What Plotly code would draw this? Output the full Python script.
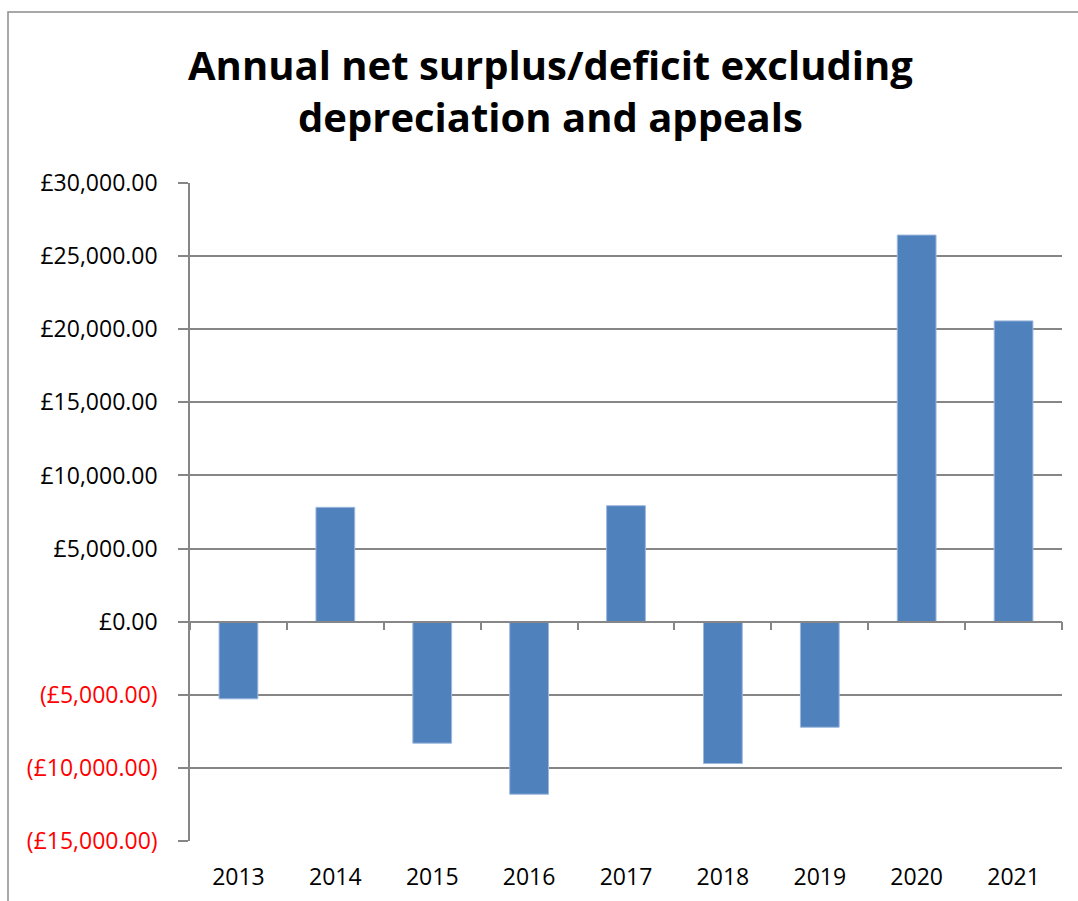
import plotly.graph_objects as go

# Yearly net surplus / deficit (GBP), excluding depreciation and appeals
years = ["2013", "2014", "2015", "2016", "2017", "2018", "2019", "2020", "2021"]
net_result = [-5280, 7820, -8310, -11800, 7930, -9700, -7220, 26440, 20570]

# Value-axis ticks; deficits shown in brackets and red
tick_values = [30000, 25000, 20000, 15000, 10000, 5000, 0, -5000, -10000, -15000]


def money_label(v):
    if v < 0:
        return f'<span style="color:#FF0000">(£{abs(v):,.2f})</span>'
    return f"£{v:,.2f}"


tick_text = [money_label(v) for v in tick_values]

y_min, y_max = -15000, 30000
zero_frac = (0 - y_min) / (y_max - y_min)

FONT = "Open Sans"
GRID = "#868686"

# plot-area geometry in pixels
W, H = 1078, 901
L, R, T, B = 190, 16, 183, 60
PW, PH = W - L - R, H - T - B

fig = go.Figure()

fig.add_trace(
    go.Bar(
        x=years,
        y=net_result,
        marker=dict(color="#4F81BD", line=dict(color="#9DB7DD", width=1)),
        hoverinfo="x+y",
        showlegend=False,
    )
)

# Carrier for the category axis drawn along the zero line
fig.add_trace(
    go.Scatter(
        x=years,
        y=[0] * len(years),
        xaxis="x2",
        mode="none",
        hoverinfo="skip",
        showlegend=False,
    )
)

fig.update_layout(
    width=W,
    height=H,
    margin=dict(l=L, r=R, t=T, b=B),
    paper_bgcolor="white",
    plot_bgcolor="white",
    bargap=0.6,
    xaxis=dict(
        type="category",
        showgrid=False,
        showline=False,
        ticks="",
        tickfont=dict(family=FONT, size=23, color="black"),
        ticklabelstandoff=20,
        automargin=False,
        fixedrange=True,
    ),
    xaxis2=dict(
        type="category",
        overlaying="x",
        anchor="free",
        position=zero_frac,
        side="bottom",
        showgrid=False,
        showline=True,
        linecolor=GRID,
        linewidth=1.5,
        ticks="outside",
        tickson="boundaries",
        ticklen=8,
        tickwidth=1.5,
        tickcolor=GRID,
        showticklabels=False,
        automargin=False,
        matches="x",
    ),
    yaxis=dict(
        range=[y_min, y_max],
        tickvals=tick_values,
        ticktext=tick_text,
        showgrid=True,
        gridcolor=GRID,
        gridwidth=1.5,
        zeroline=False,
        showline=True,
        linecolor=GRID,
        linewidth=1.5,
        ticks="outside",
        ticklen=10,
        tickwidth=1.5,
        tickcolor=GRID,
        tickfont=dict(family=FONT, size=23, color="black"),
        ticklabelstandoff=16,
        automargin=False,
        fixedrange=True,
    ),
    annotations=[
        dict(
            text="<b>Annual net surplus/deficit excluding<br>depreciation and appeals</b>",
            font=dict(family=FONT, size=40, color="black"),
            xref="paper",
            yref="paper",
            x=(550 - L) / PW,
            y=(H - B - 90) / PH,
            xanchor="center",
            yanchor="middle",
            showarrow=False,
            align="center",
        )
    ],
    shapes=[
        dict(
            type="rect",
            xref="paper",
            yref="paper",
            x0=(8 - L) / PW,
            x1=(1090 - L) / PW,
            y0=(H - B - 910) / PH,
            y1=(H - B - 12) / PH,
            line=dict(color="#8C8C8C", width=1.5),
            fillcolor="rgba(0,0,0,0)",
            layer="below",
        )
    ],
)

fig.write_html("out.html")
